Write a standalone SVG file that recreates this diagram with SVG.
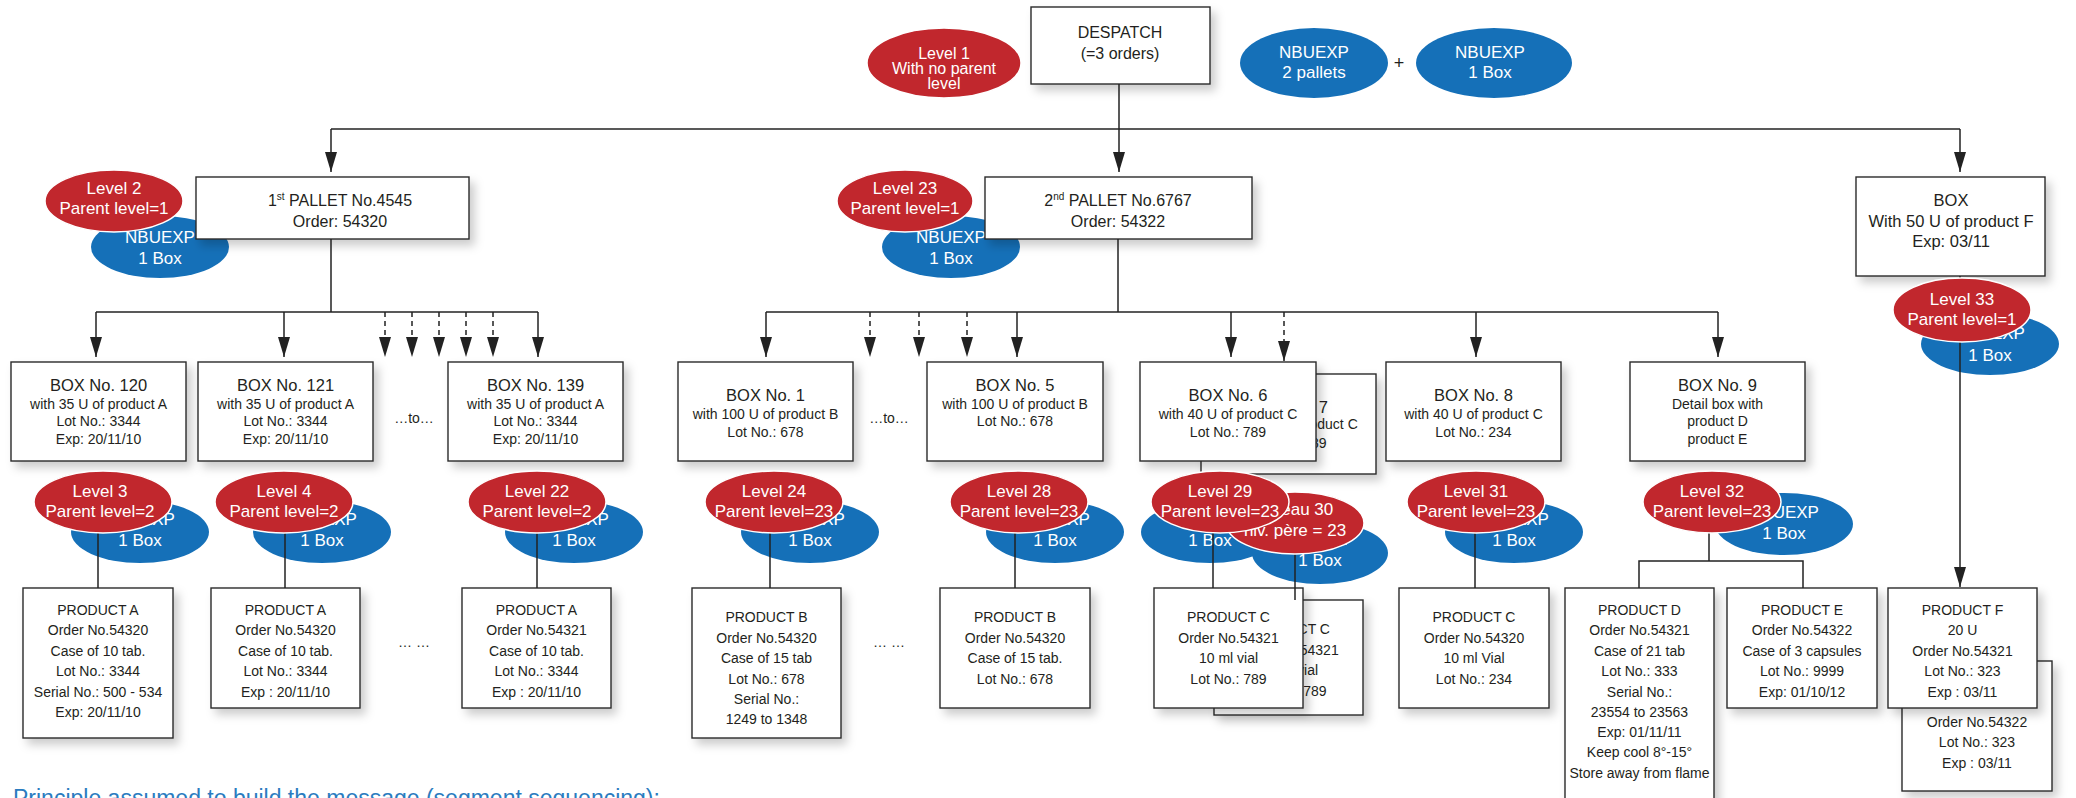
<svg xmlns="http://www.w3.org/2000/svg" width="2076" height="798" viewBox="0 0 2076 798">
<defs>
<style>
.box{fill:#fff;stroke:#2b2b2b;stroke-width:1.4;filter:url(#sh)}
.t{font-family:"Liberation Sans",Arial,sans-serif;fill:#231f20;text-anchor:middle}
.tt{font-size:16.5px}
.tb{font-size:14px}
.red{fill:#c1272d;stroke:#fff;stroke-width:1.5}
.blue{fill:#1570b8}
.w{font-family:"Liberation Sans",Arial,sans-serif;fill:#fff;text-anchor:middle;font-size:17px}
.ln{stroke:#222;stroke-width:1.5;fill:none}
.dash{stroke-dasharray:5 4}
</style>
<marker id="ah" markerUnits="userSpaceOnUse" markerWidth="20" markerHeight="12" refX="20" refY="6" orient="auto"><path d="M0,0 L20,6 L0,12 Z" fill="#222"/></marker>
<filter id="sh" x="-20%" y="-20%" width="150%" height="160%"><feDropShadow dx="5" dy="6" stdDeviation="5" flood-color="#000" flood-opacity="0.2"/></filter>
</defs>
<rect width="2076" height="798" fill="#fff"/>

<!-- top row ellipses -->
<g id="level1"><ellipse class="red" cx="944" cy="63" rx="77" ry="35"/><text class="w" style="font-size:16px"><tspan x="944" y="59">Level 1</tspan><tspan x="944" y="74">With no parent</tspan><tspan x="944" y="89">level</tspan></text></g>
<g id="nbuexp-pallets"><ellipse class="blue" cx="1314" cy="63" rx="74" ry="35"/><text class="w"><tspan x="1314" y="58">NBUEXP</tspan><tspan x="1314" y="78">2 pallets</tspan></text></g>
<text class="t" x="1399" y="69" style="font-size:18px">+</text>
<g id="nbuexp-box"><ellipse class="blue" cx="1494" cy="63" rx="78" ry="35"/><text class="w"><tspan x="1490" y="58">NBUEXP</tspan><tspan x="1490" y="78">1 Box</tspan></text></g>

<!-- blue ellipses under pallets -->
<g id="nbu-l2"><ellipse class="blue" cx="160" cy="247" rx="69" ry="31"/><text class="w"><tspan x="160" y="243">NBUEXP</tspan><tspan x="160" y="264">1 Box</tspan></text></g>
<g id="nbu-l23"><ellipse class="blue" cx="951" cy="247" rx="69" ry="31"/><text class="w"><tspan x="951" y="243">NBUEXP</tspan><tspan x="951" y="264">1 Box</tspan></text></g>

<!-- top boxes -->
<g id="despatch"><rect class="box" x="1031" y="7" width="179" height="77"/><text class="t" style="font-size:16px"><tspan x="1120" y="38">DESPATCH</tspan><tspan x="1120" y="59">(=3 orders)</tspan></text></g>
<g id="pallet1"><rect class="box" x="196" y="177" width="273" height="62"/><text class="t" style="font-size:16px"><tspan x="340" y="206">1<tspan style="font-size:10px" dy="-6">st</tspan><tspan dy="6"> PALLET No.4545</tspan></tspan><tspan x="340" y="227">Order: 54320</tspan></text></g>
<g id="pallet2"><rect class="box" x="985" y="177" width="267" height="62"/><text class="t" style="font-size:16px"><tspan x="1118" y="206">2<tspan style="font-size:10px" dy="-6">nd</tspan><tspan dy="6"> PALLET No.6767</tspan></tspan><tspan x="1118" y="227">Order: 54322</tspan></text></g>
<g id="boxF"><rect class="box" x="1856" y="177" width="189" height="99"/><text class="t tt"><tspan x="1951" y="206">BOX</tspan><tspan x="1951" y="227">With 50 U of product F</tspan><tspan x="1951" y="247">Exp: 03/11</tspan></text></g>

<!-- BOX row -->
<g id="box120"><rect class="box" x="11" y="362" width="175" height="99"/><text class="t tt" x="98.5" y="391">BOX No. 120</text><text class="t tb"><tspan x="98.5" y="409">with 35 U of product A</tspan><tspan x="98.5" y="426">Lot No.: 3344</tspan><tspan x="98.5" y="444">Exp: 20/11/10</tspan></text></g>
<g id="box121"><rect class="box" x="198" y="362" width="175" height="99"/><text class="t tt" x="285.5" y="391">BOX No. 121</text><text class="t tb"><tspan x="285.5" y="409">with 35 U of product A</tspan><tspan x="285.5" y="426">Lot No.: 3344</tspan><tspan x="285.5" y="444">Exp: 20/11/10</tspan></text></g>
<text class="t tb" x="414" y="423">…to…</text>
<g id="box139"><rect class="box" x="448" y="362" width="175" height="99"/><text class="t tt" x="535.5" y="391">BOX No. 139</text><text class="t tb"><tspan x="535.5" y="409">with 35 U of product A</tspan><tspan x="535.5" y="426">Lot No.: 3344</tspan><tspan x="535.5" y="444">Exp: 20/11/10</tspan></text></g>
<g id="box1"><rect class="box" x="678" y="362" width="175" height="99"/><text class="t tt" x="765.5" y="401">BOX No. 1</text><text class="t tb"><tspan x="765.5" y="419">with 100 U of product B</tspan><tspan x="765.5" y="437">Lot No.: 678</tspan></text></g>
<text class="t tb" x="889" y="423">…to…</text>
<g id="box5"><rect class="box" x="927" y="362" width="176" height="99"/><text class="t tt" x="1015" y="391">BOX No. 5</text><text class="t tb"><tspan x="1015" y="409">with 100 U of product B</tspan><tspan x="1015" y="426">Lot No.: 678</tspan></text></g>
<g id="box7"><rect class="box" x="1201" y="374" width="175" height="100"/><text class="t tt" x="1288.5" y="413">BOX No. 7</text><text class="t tb"><tspan x="1288.5" y="429">with 40 U of product C</tspan><tspan x="1288.5" y="448">Lot No.: 789</tspan></text></g>
<g id="box6"><rect class="box" x="1140" y="362" width="176" height="99"/><text class="t tt" x="1228" y="401">BOX No. 6</text><text class="t tb"><tspan x="1228" y="419">with 40 U of product C</tspan><tspan x="1228" y="437">Lot No.: 789</tspan></text></g>
<g id="box8"><rect class="box" x="1386" y="362" width="175" height="99"/><text class="t tt" x="1473.5" y="401">BOX No. 8</text><text class="t tb"><tspan x="1473.5" y="419">with 40 U of product C</tspan><tspan x="1473.5" y="437">Lot No.: 234</tspan></text></g>
<g id="box9"><rect class="box" x="1630" y="362" width="175" height="99"/><text class="t tt" x="1717.5" y="391">BOX No. 9</text><text class="t tb"><tspan x="1717.5" y="409">Detail box with</tspan><tspan x="1717.5" y="426">product D</tspan><tspan x="1717.5" y="444">product E</tspan></text></g>

<!-- product row -->
<g id="prodA1"><rect class="box" x="23" y="588" width="150" height="150"/><text class="t tb"><tspan x="98" y="615">PRODUCT A</tspan><tspan x="98" y="635">Order No.54320</tspan><tspan x="98" y="656">Case of 10 tab.</tspan><tspan x="98" y="676">Lot No.: 3344</tspan><tspan x="98" y="697">Serial No.: 500 - 534</tspan><tspan x="98" y="717">Exp: 20/11/10</tspan></text></g>
<g id="prodA2"><rect class="box" x="211" y="588" width="149" height="120"/><text class="t tb"><tspan x="285.5" y="615">PRODUCT A</tspan><tspan x="285.5" y="635">Order No.54320</tspan><tspan x="285.5" y="656">Case of 10 tab.</tspan><tspan x="285.5" y="676">Lot No.: 3344</tspan><tspan x="285.5" y="697">Exp : 20/11/10</tspan></text></g>
<text class="t tb" x="414" y="647">… …</text>
<g id="prodA3"><rect class="box" x="462" y="588" width="149" height="120"/><text class="t tb"><tspan x="536.5" y="615">PRODUCT A</tspan><tspan x="536.5" y="635">Order No.54321</tspan><tspan x="536.5" y="656">Case of 10 tab.</tspan><tspan x="536.5" y="676">Lot No.: 3344</tspan><tspan x="536.5" y="697">Exp : 20/11/10</tspan></text></g>
<g id="prodB1"><rect class="box" x="692" y="588" width="149" height="150"/><text class="t tb"><tspan x="766.5" y="622">PRODUCT B</tspan><tspan x="766.5" y="643">Order No.54320</tspan><tspan x="766.5" y="663">Case of 15 tab</tspan><tspan x="766.5" y="684">Lot No.: 678</tspan><tspan x="766.5" y="704">Serial No.:</tspan><tspan x="766.5" y="724">1249 to 1348</tspan></text></g>
<text class="t tb" x="889" y="647">… …</text>
<g id="prodB2"><rect class="box" x="940" y="588" width="150" height="120"/><text class="t tb"><tspan x="1015" y="622">PRODUCT B</tspan><tspan x="1015" y="643">Order No.54320</tspan><tspan x="1015" y="663">Case of 15 tab.</tspan><tspan x="1015" y="684">Lot No.: 678</tspan></text></g>
<g id="prodC2"><rect class="box" x="1214" y="600" width="149" height="115"/><text class="t tb"><tspan x="1288.5" y="634">PRODUCT C</tspan><tspan x="1288.5" y="655">Order No.54321</tspan><tspan x="1288.5" y="675">10 ml vial</tspan><tspan x="1288.5" y="696">Lot No.: 789</tspan></text></g>
<g id="prodC1"><rect class="box" x="1154" y="588" width="149" height="120"/><text class="t tb"><tspan x="1228.5" y="622">PRODUCT C</tspan><tspan x="1228.5" y="643">Order No.54321</tspan><tspan x="1228.5" y="663">10 ml vial</tspan><tspan x="1228.5" y="684">Lot No.: 789</tspan></text></g>
<g id="prodC3"><rect class="box" x="1399" y="588" width="150" height="120"/><text class="t tb"><tspan x="1474" y="622">PRODUCT C</tspan><tspan x="1474" y="643">Order No.54320</tspan><tspan x="1474" y="663">10 ml Vial</tspan><tspan x="1474" y="684">Lot No.: 234</tspan></text></g>
<g id="prodD"><rect class="box" x="1565" y="588" width="149" height="240"/><text class="t tb"><tspan x="1639.5" y="615">PRODUCT D</tspan><tspan x="1639.5" y="635">Order No.54321</tspan><tspan x="1639.5" y="656">Case of 21 tab</tspan><tspan x="1639.5" y="676">Lot No.: 333</tspan><tspan x="1639.5" y="697">Serial No.:</tspan><tspan x="1639.5" y="717">23554 to 23563</tspan><tspan x="1639.5" y="737">Exp: 01/11/11</tspan><tspan x="1639.5" y="757">Keep cool 8°-15°</tspan><tspan x="1639.5" y="778">Store away from flame</tspan></text></g>
<g id="prodE"><rect class="box" x="1727" y="588" width="150" height="120"/><text class="t tb"><tspan x="1802" y="615">PRODUCT E</tspan><tspan x="1802" y="635">Order No.54322</tspan><tspan x="1802" y="656">Case of 3 capsules</tspan><tspan x="1802" y="676">Lot No.: 9999</tspan><tspan x="1802" y="697">Exp: 01/10/12</tspan></text></g>
<g id="prodF2"><rect class="box" x="1902" y="661" width="150" height="130"/><text class="t tb"><tspan x="1977" y="727">Order No.54322</tspan><tspan x="1977" y="747">Lot No.: 323</tspan><tspan x="1977" y="768">Exp : 03/11</tspan></text></g>
<g id="prodF"><rect class="box" x="1888" y="588" width="149" height="120"/><text class="t tb"><tspan x="1962.5" y="615">PRODUCT F</tspan><tspan x="1962.5" y="635">20 U</tspan><tspan x="1962.5" y="656">Order No.54321</tspan><tspan x="1962.5" y="676">Lot No.: 323</tspan><tspan x="1962.5" y="697">Exp : 03/11</tspan></text></g>

<!-- blue ellipses row 2 -->
<g id="nbu-l3"><ellipse class="blue" cx="140" cy="532" rx="69" ry="31"/><text class="w"><tspan x="140" y="525">NBUEXP</tspan><tspan x="140" y="546">1 Box</tspan></text></g>
<g id="nbu-l4"><ellipse class="blue" cx="322" cy="532" rx="69" ry="31"/><text class="w"><tspan x="322" y="525">NBUEXP</tspan><tspan x="322" y="546">1 Box</tspan></text></g>
<g id="nbu-l22"><ellipse class="blue" cx="574" cy="532" rx="69" ry="31"/><text class="w"><tspan x="574" y="525">NBUEXP</tspan><tspan x="574" y="546">1 Box</tspan></text></g>
<g id="nbu-l24"><ellipse class="blue" cx="810" cy="532" rx="69" ry="31"/><text class="w"><tspan x="810" y="525">NBUEXP</tspan><tspan x="810" y="546">1 Box</tspan></text></g>
<g id="nbu-l28"><ellipse class="blue" cx="1055" cy="532" rx="69" ry="31"/><text class="w"><tspan x="1055" y="525">NBUEXP</tspan><tspan x="1055" y="546">1 Box</tspan></text></g>
<g id="nbu-l30"><ellipse class="blue" cx="1320" cy="553" rx="68" ry="31"/><text class="w"><tspan x="1320" y="545">NBUEXP</tspan><tspan x="1320" y="566">1 Box</tspan></text></g>
<g id="nbu-l29"><ellipse class="blue" cx="1210" cy="532" rx="69" ry="31"/><text class="w"><tspan x="1210" y="525">NBUEXP</tspan><tspan x="1210" y="546">1 Box</tspan></text></g>
<g id="nbu-l31"><ellipse class="blue" cx="1514" cy="532" rx="69" ry="31"/><text class="w"><tspan x="1514" y="525">NBUEXP</tspan><tspan x="1514" y="546">1 Box</tspan></text></g>
<g id="nbu-l32"><ellipse class="blue" cx="1784" cy="524" rx="69" ry="31"/><text class="w"><tspan x="1784" y="518">NBUEXP</tspan><tspan x="1784" y="539">1 Box</tspan></text></g>
<g id="nbu-l33"><ellipse class="blue" cx="1990" cy="344" rx="69" ry="31"/><text class="w"><tspan x="1990" y="339">NBUEXP</tspan><tspan x="1990" y="361">1 Box</tspan></text></g>

<!-- connectors -->
<g id="connectors">
<line class="ln" x1="331" y1="129" x2="1960" y2="129"/>
<line class="ln" x1="331" y1="129" x2="331" y2="172" marker-end="url(#ah)"/>
<line class="ln" x1="1960" y1="129" x2="1960" y2="172" marker-end="url(#ah)"/>
<line class="ln" x1="1119" y1="84" x2="1119" y2="172" marker-end="url(#ah)"/>
<line class="ln" x1="331" y1="239" x2="331" y2="312"/>
<line class="ln" x1="96" y1="312" x2="538" y2="312"/>
<line class="ln" x1="96" y1="312" x2="96" y2="357" marker-end="url(#ah)"/>
<line class="ln" x1="284" y1="312" x2="284" y2="357" marker-end="url(#ah)"/>
<line class="ln" x1="538" y1="312" x2="538" y2="357" marker-end="url(#ah)"/>
<line class="ln dash" x1="385" y1="312" x2="385" y2="357" marker-end="url(#ah)"/>
<line class="ln dash" x1="412" y1="312" x2="412" y2="357" marker-end="url(#ah)"/>
<line class="ln dash" x1="439" y1="312" x2="439" y2="357" marker-end="url(#ah)"/>
<line class="ln dash" x1="466" y1="312" x2="466" y2="357" marker-end="url(#ah)"/>
<line class="ln dash" x1="493" y1="312" x2="493" y2="357" marker-end="url(#ah)"/>
<line class="ln" x1="1118" y1="239" x2="1118" y2="312"/>
<line class="ln" x1="766" y1="312" x2="1718" y2="312"/>
<line class="ln" x1="766" y1="312" x2="766" y2="357" marker-end="url(#ah)"/>
<line class="ln" x1="1017" y1="312" x2="1017" y2="357" marker-end="url(#ah)"/>
<line class="ln" x1="1231" y1="312" x2="1231" y2="357" marker-end="url(#ah)"/>
<line class="ln" x1="1476" y1="312" x2="1476" y2="357" marker-end="url(#ah)"/>
<line class="ln" x1="1718" y1="312" x2="1718" y2="357" marker-end="url(#ah)"/>
<line class="ln dash" x1="870" y1="312" x2="870" y2="357" marker-end="url(#ah)"/>
<line class="ln dash" x1="919" y1="312" x2="919" y2="357" marker-end="url(#ah)"/>
<line class="ln dash" x1="967" y1="312" x2="967" y2="357" marker-end="url(#ah)"/>
<line class="ln dash" x1="1284" y1="312" x2="1284" y2="361" marker-end="url(#ah)"/>
<line class="ln" x1="1960" y1="276" x2="1960" y2="587" marker-end="url(#ah)"/>
<line class="ln" x1="98" y1="502" x2="98" y2="588"/>
<line class="ln" x1="285" y1="502" x2="285" y2="588"/>
<line class="ln" x1="537" y1="502" x2="537" y2="588"/>
<line class="ln" x1="770" y1="502" x2="770" y2="588"/>
<line class="ln" x1="1015" y1="502" x2="1015" y2="588"/>
<line class="ln" x1="1213" y1="502" x2="1213" y2="588"/>
<line class="ln" x1="1295" y1="523" x2="1295" y2="600"/>
<line class="ln" x1="1475" y1="502" x2="1475" y2="588"/>
<path class="ln" d="M1709,502 L1709,561 M1639,588 L1639,561 L1803,561 L1803,588"/>
</g>

<!-- red level ellipses -->
<g id="level2"><ellipse class="red" cx="114" cy="201" rx="69" ry="31"/><text class="w"><tspan x="114" y="194">Level 2</tspan><tspan x="114" y="214">Parent level=1</tspan></text></g>
<g id="level23"><ellipse class="red" cx="905" cy="201" rx="68" ry="31"/><text class="w"><tspan x="905" y="194">Level 23</tspan><tspan x="905" y="214">Parent level=1</tspan></text></g>
<g id="level33"><ellipse class="red" cx="1962" cy="310" rx="69" ry="32"/><text class="w"><tspan x="1962" y="305">Level 33</tspan><tspan x="1962" y="325">Parent level=1</tspan></text></g>
<g id="level3"><ellipse class="red" cx="103" cy="502" rx="69" ry="31"/><text class="w"><tspan x="100" y="497">Level 3</tspan><tspan x="100" y="517">Parent level=2</tspan></text></g>
<g id="level4"><ellipse class="red" cx="284" cy="502" rx="69" ry="31"/><text class="w"><tspan x="284" y="497">Level 4</tspan><tspan x="284" y="517">Parent level=2</tspan></text></g>
<g id="level22"><ellipse class="red" cx="537" cy="502" rx="69" ry="31"/><text class="w"><tspan x="537" y="497">Level 22</tspan><tspan x="537" y="517">Parent level=2</tspan></text></g>
<g id="level24"><ellipse class="red" cx="774" cy="502" rx="69" ry="31"/><text class="w"><tspan x="774" y="497">Level 24</tspan><tspan x="774" y="517">Parent level=23</tspan></text></g>
<g id="level28"><ellipse class="red" cx="1019" cy="502" rx="69" ry="31"/><text class="w"><tspan x="1019" y="497">Level 28</tspan><tspan x="1019" y="517">Parent level=23</tspan></text></g>
<g id="level30"><ellipse class="red" cx="1295" cy="523" rx="69" ry="31"/><text class="w"><tspan x="1295" y="515">Niveau 30</tspan><tspan x="1295" y="536">niv. père = 23</tspan></text></g>
<g id="level29"><ellipse class="red" cx="1220" cy="502" rx="69" ry="31"/><text class="w"><tspan x="1220" y="497">Level 29</tspan><tspan x="1220" y="517">Parent level=23</tspan></text></g>
<g id="level31"><ellipse class="red" cx="1476" cy="502" rx="69" ry="31"/><text class="w"><tspan x="1476" y="497">Level 31</tspan><tspan x="1476" y="517">Parent level=23</tspan></text></g>
<g id="level32"><ellipse class="red" cx="1712" cy="502" rx="69" ry="31"/><text class="w"><tspan x="1712" y="497">Level 32</tspan><tspan x="1712" y="517">Parent level=23</tspan></text></g>

<text x="13" y="806" style="font-family:'Liberation Sans',Arial,sans-serif;font-size:23px;fill:#2b7cc0">Principle assumed to build the message (segment sequencing):</text>
</svg>
